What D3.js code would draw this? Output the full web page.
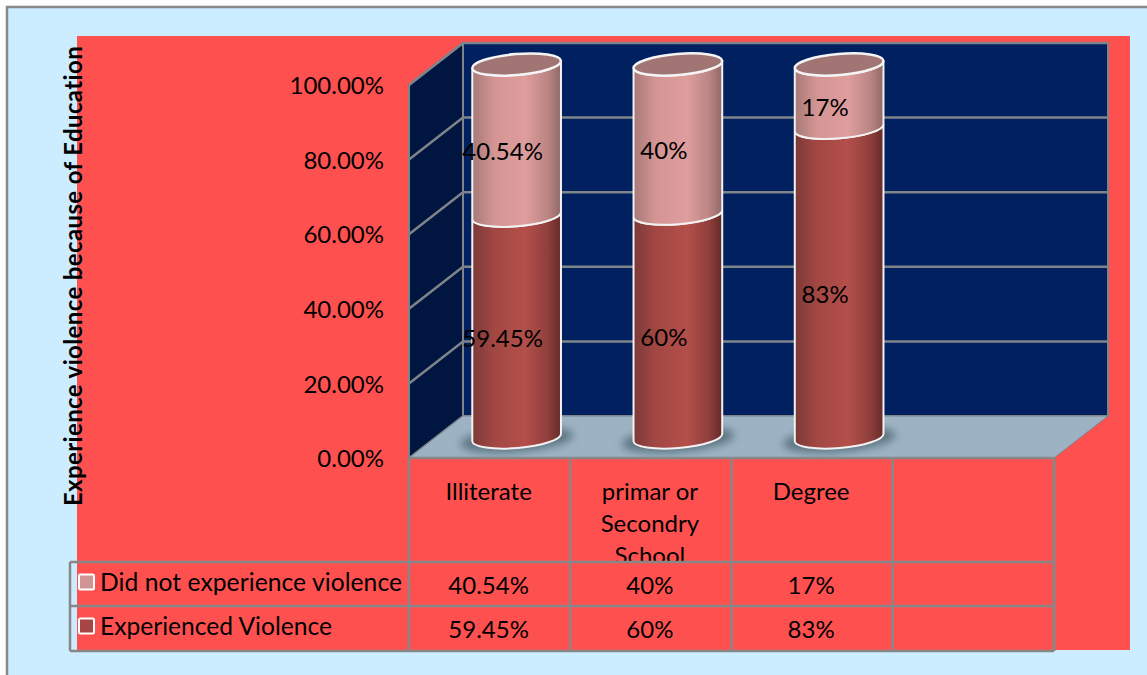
<!DOCTYPE html>
<html><head><meta charset="utf-8">
<script src="https://cdn.jsdelivr.net/npm/d3@7/dist/d3.min.js"></script>
<style>html,body{margin:0;padding:0;background:#fff}svg{display:block}text{font-family:Lato,"Open Sans",sans-serif;fill:#000}</style>
</head><body><div id="c"></div>
<script>
const categories = ["Illiterate", "primar or\nSecondry\nSchool", "Degree", ""];
const seriesNames = ["Did not experience violence", "Experienced Violence"];
const experienced = [59.45, 60, 83];
const notExperienced = [40.54, 40, 17];
const experiencedLabels = ["59.45%", "60%", "83%"];
const notExperiencedLabels = ["40.54%", "40%", "17%"];
const yTicks = [0, 20, 40, 60, 80, 100];

const W = 1147, H = 675, FS = 24;
const svg = d3.select("#c").append("svg").attr("width", W).attr("height", H);
const defs = svg.append("defs");
function grad(id, stops){
  const g = defs.append("linearGradient").attr("id", id).attr("x1",0).attr("x2",1).attr("y1",0).attr("y2",0);
  stops.forEach(s => g.append("stop").attr("offset", s[0]).attr("stop-color", s[1]));
}
grad("low", [[0,"#7c3a38"],[.25,"#a24743"],[.6,"#b44f4b"],[.85,"#8f3f3c"],[1,"#642a28"]]);
grad("high",[[0,"#a67a78"],[.25,"#d49594"],[.6,"#df9d9d"],[.85,"#bb8584"],[1,"#8f6967"]]);
defs.append("filter").attr("id","blur").attr("x","-30%").attr("y","-60%").attr("width","160%").attr("height","220%")
  .append("feGaussianBlur").attr("stdDeviation",4);
defs.append("clipPath").attr("id","cell").append("rect").attr("x",409).attr("y",458).attr("width",645).attr("height",104);

// page + chart background
svg.append("rect").attr("width",W).attr("height",H).attr("fill","#fff");
svg.append("rect").attr("x",7).attr("y",7).attr("width",W).attr("height",H).attr("fill","#CCECFF").attr("stroke","#898989").attr("stroke-width",2.5);
svg.append("rect").attr("x",77).attr("y",36).attr("width",1053).attr("height",614).attr("fill","#FF5050");

// scales
const y = d3.scaleLinear().domain([0,100]).range([458,85]);
const yBar = d3.scaleLinear().domain([0,100]).range([437.5,64.5]);
const x = d3.scaleBand().domain(d3.range(categories.length)).range([409,1054]);
const DX = 54, DY = -42, gray = "#7f8488";

// walls
const L = x.range()[0], R = x.range()[1], y0 = y(0), y1 = y(100);
svg.append("path").attr("d",`M${L+DX},${y1+DY}H${R+DX}V${y0+DY}H${L+DX}Z`).attr("fill","#002060").attr("stroke",gray).attr("stroke-width",2);
svg.append("path").attr("d",`M${L},${y1}L${L+DX},${y1+DY}V${y0+DY}L${L},${y0}Z`).attr("fill","#001540").attr("stroke",gray).attr("stroke-width",2);
svg.append("path").attr("d",`M${L},${y0}L${L+DX},${y0+DY}H${R+DX}L${R},${y0}Z`).attr("fill","#9DB3C4").attr("stroke",gray).attr("stroke-width",1);
svg.append("g").selectAll("path").data(yTicks.slice(1)).join("path")
  .attr("d",d=>`M${L},${y(d)}L${L+DX},${y(d)+DY}H${R+DX}`).attr("fill","none").attr("stroke",gray).attr("stroke-width",2.5);

// y axis
const ax = svg.append("g").attr("transform",`translate(${L-25},0)`)
  .call(d3.axisLeft(y).tickValues(yTicks).tickSize(0).tickPadding(0).tickFormat(d=>d3.format(".2f")(d)+"%"));
ax.select(".domain").remove();
ax.selectAll("text").attr("font-size",FS).attr("font-family","Lato").attr("fill","#000").attr("dy","0.36em");

svg.append("text").attr("transform","translate(82,276) rotate(-90)").attr("text-anchor","middle")
  .attr("font-size",24).attr("letter-spacing",0.37).attr("font-weight",700).text("Experience violence because of Education");

// cylinders
const RX = 44.5, RY = 10.5, TILT = 4.8, dxE = RX*Math.cos(TILT*Math.PI/180), dyE = RX*Math.sin(TILT*Math.PI/180);
const seg = (c,a,b) => `M${c-dxE},${a+dyE}A${RX},${RY} ${-TILT} 0 0 ${c+dxE},${a-dyE}L${c+dxE},${b-dyE}A${RX},${RY} ${-TILT} 0 1 ${c-dxE},${b+dyE}Z`;
const cx = i => x(i)+x.bandwidth()/2+27;
const bars = svg.append("g").selectAll("g").data(experienced).join("g");
bars.append("ellipse").attr("cx",(d,i)=>cx(i)).attr("cy",yBar(0)+2).attr("rx",RX+12).attr("ry",RY+2)
  .attr("transform",(d,i)=>`rotate(${-TILT} ${cx(i)} ${yBar(0)})`).attr("fill","#5c7380").attr("filter","url(#blur)");
bars.append("path").attr("d",(d,i)=>seg(cx(i),yBar(0),yBar(d))).attr("fill","url(#low)").attr("stroke","#f2f2f2").attr("stroke-width",2);
bars.append("path").attr("d",(d,i)=>seg(cx(i),yBar(d),yBar(d+notExperienced[i]))).attr("fill","url(#high)").attr("stroke","#f2f2f2").attr("stroke-width",2);
bars.append("ellipse").attr("cx",(d,i)=>cx(i)).attr("cy",(d,i)=>yBar(d+notExperienced[i])).attr("rx",RX).attr("ry",RY)
  .attr("transform",(d,i)=>`rotate(${-TILT} ${cx(i)} ${yBar(d+notExperienced[i])})`).attr("fill","#a17573").attr("stroke","#f4f4f4").attr("stroke-width",2.5);
// data labels
bars.append("text").attr("x",(d,i)=>cx(i)-14).attr("y",d=>yBar(d/2)+20).attr("text-anchor","middle").attr("font-size",FS)
  .text((d,i)=>experiencedLabels[i]);
bars.append("text").attr("x",(d,i)=>cx(i)-14).attr("y",(d,i)=>yBar(d+notExperienced[i]/2)+20).attr("text-anchor","middle").attr("font-size",FS)
  .text((d,i)=>notExperiencedLabels[i]);

// data table
const rows = [458,562,606,651], tl = 70;
const mid = i => x(i)+x.bandwidth()/2-1;
const cat = svg.append("g").attr("clip-path","url(#cell)").selectAll("text").data(categories).join("text")
  .attr("text-anchor","middle").attr("font-size",FS);
cat.selectAll("tspan").data((d,i)=>d.split("\n").map(t=>({t,i}))).join("tspan")
  .attr("x",d=>mid(d.i)).attr("y",(d,j)=>500+j*32).text(d=>d.t);
[notExperiencedLabels, experiencedLabels].forEach((arr,r)=>{
  svg.append("g").selectAll("text").data(arr).join("text").attr("x",(d,i)=>mid(i)).attr("y",rows[r+1]+32)
    .attr("text-anchor","middle").attr("font-size",FS).text(d=>d);
});
const lines = svg.append("g").attr("stroke","#878787").attr("stroke-width",2.5).attr("fill","none");
lines.selectAll("path.v").data(d3.range(categories.length+1)).join("path").attr("class","v")
  .attr("d",i=>{const X=i<categories.length?x(i):R; return `M${X},${rows[0]}V${rows[3]}`;}).attr("stroke-width",i=>i==categories.length?3:2.5);
lines.append("path").attr("d",`M${L},${rows[0]}H${R}`);
rows.slice(1).forEach(r=>lines.append("path").attr("d",`M${tl},${r}H${R}`));
lines.append("path").attr("d",`M${tl},${rows[1]}V${rows[3]}`);

// legend keys in table
const colors = ["#D09494","#A64543"];
seriesNames.forEach((s,i)=>{
  svg.append("rect").attr("x",79).attr("y",rows[i+1]+12.5).attr("width",15).attr("height",15).attr("rx",1.5).attr("fill",colors[i]).attr("stroke","#fff").attr("stroke-width",2);
  svg.append("text").attr("x",100).attr("y",rows[i+1]+29).attr("font-size",FS+0.6).attr("textLength",i==0?302:232).attr("lengthAdjust","spacing").text(s);
});
</script></body></html>
